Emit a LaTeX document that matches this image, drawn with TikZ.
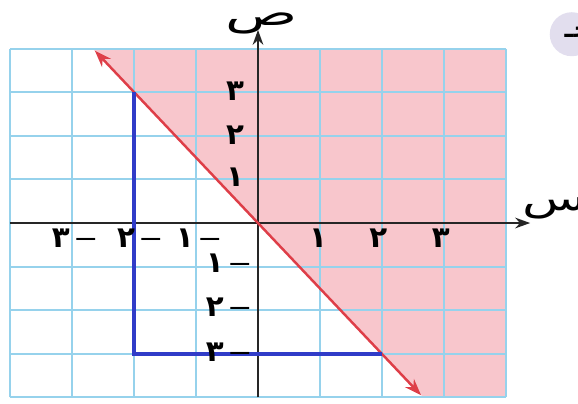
\documentclass[tikz,border=0pt]{standalone}
\usepackage{fontspec}
\newfontfamily\arabicfont[Script=Arabic]{DejaVu Sans}
\TeXXeTstate=1
\usetikzlibrary{arrows.meta}
\definecolor{gridblue}{RGB}{150,210,236}
\definecolor{regionpink}{RGB}{248,198,204}
\definecolor{boundred}{RGB}{222,62,72}
\definecolor{pathblue}{RGB}{48,60,200}
\definecolor{tagcircle}{RGB}{226,222,238}
\newcommand{\negsign}{\,{\mdseries\scalebox{1.6}[1]{–}}}

\begin{document}
\begin{tikzpicture}[
  x=1.86cm, y=1.308cm,
  gridline/.style={gridblue, line width=1.6pt},
  axis/.style={line width=1.8pt, black!85, -{Stealth[length=4.5mm, width=3.2mm]}},
  num/.style={font=\arabicfont\fontsize{25}{25}\selectfont\bfseries, inner sep=0pt},
  letter/.style={font=\arabicfont\fontsize{30}{30}\selectfont, inner sep=0pt}
]
\useasboundingbox (-4.161,-4.128) rectangle (5.161,5.115);

\fill[regionpink] (-8/3,4) -- (4,4) -- (4,-4) -- (8/3,-4) -- cycle;
\draw[gridline, step=1] (-4,-4) grid (4,4);

\coordinate (xstart) at (-4,0);
\coordinate (xend) at (4.39,0);
\coordinate (ystart) at (0,-4);
\coordinate (yend) at (0,4.43);
\draw[axis] (xstart) -- (xend);
\draw[axis] (ystart) -- (yend);

\coordinate (redtop) at (-2.63,3.95);
\coordinate (redbottom) at (2.63,-3.95);
\draw[boundred, line width=2.1pt, {Stealth[length=5mm, width=3.6mm]}-{Stealth[length=5mm, width=3.6mm]}] (redtop) -- (redbottom);

\coordinate (bluetop) at (-2,3);
\coordinate (bluecorner) at (-2,-3);
\coordinate (blueend) at (2,-3);
\draw[pathblue, line width=3pt] (bluetop) -- (bluecorner) -- (blueend);

\node[letter] (ylabel) at (0.06,4.58) {\scalebox{1.7}[1]{\beginR ص\endR}};
\node[letter] (xlabel) at (4.78,0.33) {\scalebox{1.5}[1]{\beginR س\endR}};

\node[num] (yone) at (-0.37,1.05) {١};
\node[num] (ytwo) at (-0.37,2.02) {٢};
\node[num] (ythree) at (-0.37,3.03) {٣};
\node[num] (ymone) at (-0.47,-0.92) {١\negsign};
\node[num] (ymtwo) at (-0.47,-1.93) {٢\negsign};
\node[num] (ymthree) at (-0.47,-2.96) {٣\negsign};

\node[num] (xone) at (0.97,-0.34) {١};
\node[num] (xtwo) at (1.94,-0.34) {٢};
\node[num] (xthree) at (2.95,-0.34) {٣};
\node[num] (xmone) at (-0.95,-0.34) {١\negsign};
\node[num] (xmtwo) at (-1.9,-0.34) {٢\negsign};
\node[num] (xmthree) at (-2.95,-0.34) {٣\negsign};

\node[circle, fill=tagcircle, minimum size=1.32cm, inner sep=0pt] (tag) at (5.06,4.33) {};
\node[font=\arabicfont\fontsize{22}{22}\selectfont\bfseries, inner sep=0pt, xshift=0.2cm] (tagtext) at (tag.center) {\beginR جـ\endR};

\end{tikzpicture}
\end{document}
